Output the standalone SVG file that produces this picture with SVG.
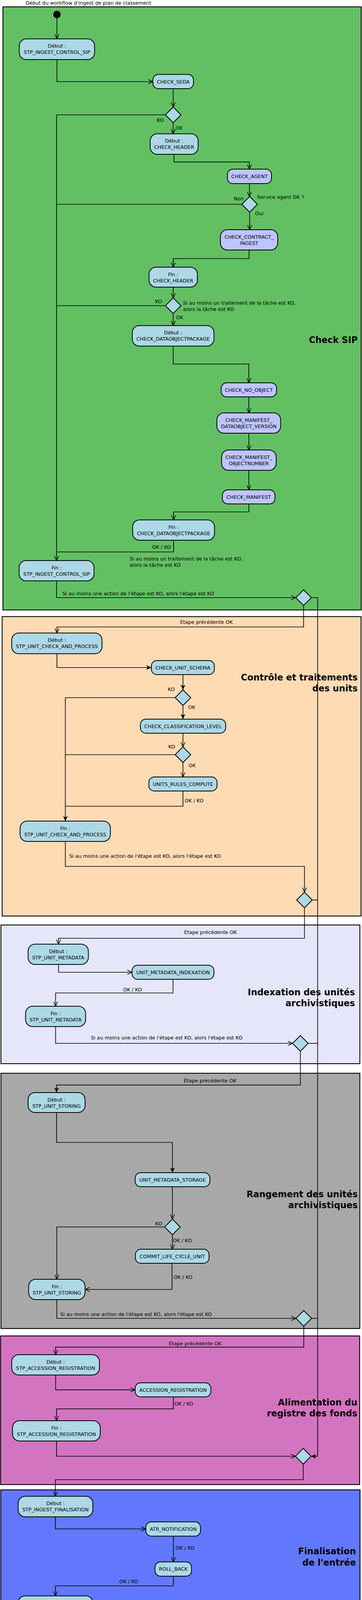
<svg xmlns="http://www.w3.org/2000/svg" width="928" height="4238" viewBox="0 0 928 4238">
<style>
.fr{stroke:#000;stroke-width:2.2}
.n{fill:#ADD8E6;stroke:#000;stroke-width:2}
.n2{fill:#BEC4FF;stroke:#000;stroke-width:2}
.d{fill:#ADD8E6;stroke:#000;stroke-width:2}
text{font-family:"DejaVu Sans","Liberation Sans",sans-serif;font-size:12.7px;fill:#000}
.m{text-anchor:middle}
.ti{font-weight:bold;font-size:22.5px;text-anchor:end}
.c{fill:none;stroke:#000;stroke-width:1.7}
.o{marker-end:url(#ao)}
.f{marker-end:url(#af)}
</style>
<defs>
<marker id="ao" viewBox="0 0 13 12" refX="12.5" refY="6" markerWidth="13" markerHeight="12" markerUnits="userSpaceOnUse" orient="auto">
<path d="M0.5,0.5 L12.5,6 L0.5,11.5" fill="none" stroke="#000" stroke-width="1.6"/>
</marker>
<marker id="af" viewBox="0 0 13 12" refX="13" refY="6" markerWidth="13" markerHeight="12" markerUnits="userSpaceOnUse" orient="auto">
<path d="M0,0 L13,6 L0,12 L3.5,6 Z" fill="#000"/>
</marker>
</defs>

<g id="frames">
<rect class="fr" x="7.5" y="17.5" width="918.5" height="1544" fill="#62C063"/>
<rect class="fr" x="5.5" y="1578.5" width="920" height="766.5" fill="#FFDBB4"/>
<rect class="fr" x="2.5" y="2368" width="920" height="355" fill="#E6E6FA"/>
<rect class="fr" x="2.5" y="2747.5" width="920" height="653.5" fill="#A8A8A8"/>
<rect class="fr" x="1.5" y="3420" width="920.5" height="380.5" fill="#D374C0"/>
<rect class="fr" x="2" y="3814" width="921" height="348" fill="#6278FF"/>
</g>

<g id="titles">
<text class="ti" x="917" y="878">Check SIP</text>
<text class="ti" x="917" y="1741.5">Contrôle et traitements</text>
<text class="ti" x="917" y="1769.5">des units</text>
<text class="ti" x="910" y="2548">Indexation des unités</text>
<text class="ti" x="910" y="2576">archivistiques</text>
<text class="ti" x="917" y="3065">Rangement des unités</text>
<text class="ti" x="917" y="3093">archivistiques</text>
<text class="ti" x="916" y="3598">Alimentation du</text>
<text class="ti" x="916" y="3626">registre des fonds</text>
<text class="ti" x="912.5" y="3979">Finalisation</text>
<text class="ti" x="912.5" y="4007.7">de l'entrée</text>
</g>

<g id="n-start"><circle cx="146" cy="37" r="9.5" fill="#000"/><text x="65.7" y="12">Début du workflow d'ingest de plan de classement</text></g>
<g id="n1"><rect class="n" x="49.5" y="99.5" width="193" height="53" rx="18"/><text class="m" x="146" y="122">Début :</text><text class="m" x="146" y="138">STP_INGEST_CONTROL_SIP</text></g>
<g id="n2"><rect class="n" x="392" y="190.5" width="104" height="36.5" rx="14"/><text class="m" x="444" y="213.5">CHECK_SEDA</text></g>
<g id="d1"><polygon class="d" points="444,274 464,294 444,314 424,294"/></g>
<g id="n3"><rect class="n" x="385" y="342.5" width="123" height="52.5" rx="18"/><text class="m" x="446.5" y="365">Début :</text><text class="m" x="446.5" y="381">CHECK_HEADER</text></g>
<g id="n4"><rect class="n2" x="583" y="433" width="113" height="37" rx="14"/><text class="m" x="639.5" y="456">CHECK_AGENT</text></g>
<g id="d2"><polygon class="d" points="640,503 660,523 640,543 620,523"/></g>
<g id="n5"><rect class="n2" x="565" y="588" width="147" height="52" rx="18"/><text class="m" x="638.5" y="610.5">CHECK_CONTRACT_</text><text class="m" x="638.5" y="626.5">INGEST</text></g>
<g id="n6"><rect class="n" x="382" y="684" width="124" height="51" rx="18"/><text class="m" x="444" y="706.5">Fin :</text><text class="m" x="444" y="722.5">CHECK_HEADER</text></g>
<g id="d3"><polygon class="d" points="444,762.5 464,782.5 444,802.5 424,782.5"/></g>
<g id="n7"><rect class="n" x="339" y="833.5" width="209.5" height="52.5" rx="18"/><text class="m" x="443.75" y="856">Début :</text><text class="m" x="443.75" y="872">CHECK_DATAOBJECTPACKAGE</text></g>
<g id="n8"><rect class="n2" x="567" y="980" width="142" height="36" rx="14"/><text class="m" x="638" y="1002.6">CHECK_NO_OBJECT</text></g>
<g id="n9"><rect class="n2" x="556" y="1057" width="163.5" height="52" rx="18"/><text class="m" x="637.75" y="1079.5">CHECK_MANIFEST_</text><text class="m" x="637.75" y="1095.5">DATAOBJECT_VERSION</text></g>
<g id="n10"><rect class="n2" x="568" y="1152" width="140" height="52" rx="18"/><text class="m" x="638" y="1174.5">CHECK_MANIFEST_</text><text class="m" x="638" y="1190.5">OBJECTNUMBER</text></g>
<g id="n11"><rect class="n2" x="570" y="1254" width="135" height="36" rx="14"/><text class="m" x="637.5" y="1276.6">CHECK_MANIFEST</text></g>
<g id="n12"><rect class="n" x="340" y="1331" width="210" height="52" rx="18"/><text class="m" x="445" y="1353.5">Fin :</text><text class="m" x="445" y="1369.5">CHECK_DATAOBJECTPACKAGE</text></g>
<g id="n13"><rect class="n" x="49" y="1435" width="192" height="52" rx="18"/><text class="m" x="145" y="1457.5">Fin :</text><text class="m" x="145" y="1473.5">STP_INGEST_CONTROL_SIP</text></g>
<g id="d4"><polygon class="d" points="778.3,1510 798.3,1530 778.3,1550 758.3,1530"/></g>

<g id="n14"><rect class="n" x="30" y="1620.5" width="231.5" height="53" rx="18"/><text class="m" x="145.75" y="1643">Début :</text><text class="m" x="145.75" y="1659">STP_UNIT_CHECK_AND_PROCESS</text></g>
<g id="n15"><rect class="n" x="388" y="1691" width="161.5" height="36" rx="14"/><text class="m" x="468.75" y="1713.6">CHECK_UNIT_SCHEMA</text></g>
<g id="d5"><polygon class="d" points="469,1766 489,1786 469,1806 449,1786"/></g>
<g id="n16"><rect class="n" x="360" y="1841" width="218.5" height="36" rx="14"/><text class="m" x="469.25" y="1863.6">CHECK_CLASSIFICATION_LEVEL</text></g>
<g id="d6"><polygon class="d" points="469,1912 489,1932 469,1952 449,1932"/></g>
<g id="n17"><rect class="n" x="381.5" y="1989" width="175" height="36" rx="14"/><text class="m" x="469" y="2011.6">UNITS_RULES_COMPUTE</text></g>
<g id="n18"><rect class="n" x="51.5" y="2102" width="231.5" height="52" rx="18"/><text class="m" x="167.25" y="2124.5">Fin :</text><text class="m" x="167.25" y="2140.5">STP_UNIT_CHECK_AND_PROCESS</text></g>
<g id="d7"><polygon class="d" points="780.5,2284 800.5,2304 780.5,2324 760.5,2304"/></g>

<g id="n19"><rect class="n" x="72" y="2417" width="154.5" height="52" rx="18"/><text class="m" x="149.25" y="2439.5">Début :</text><text class="m" x="149.25" y="2455.5">STP_UNIT_METADATA</text></g>
<g id="n20"><rect class="n" x="338.5" y="2471" width="210" height="36" rx="14"/><text class="m" x="443.5" y="2493.6">UNIT_METADATA_INDEXATION</text></g>
<g id="n21"><rect class="n" x="65.5" y="2576" width="154" height="52" rx="18"/><text class="m" x="142.5" y="2598.5">Fin :</text><text class="m" x="142.5" y="2614.5">STP_UNIT_METADATA</text></g>
<g id="d8"><polygon class="d" points="770,2651 790,2671 770,2691 750,2671"/></g>

<g id="n22"><rect class="n" x="72" y="2797" width="146" height="51" rx="18"/><text class="m" x="145" y="2819.5">Début :</text><text class="m" x="145" y="2835.5">STP_UNIT_STORING</text></g>
<g id="n23"><rect class="n" x="346.5" y="3002" width="191.5" height="36" rx="14"/><text class="m" x="442.25" y="3024.6">UNIT_METADATA_STORAGE</text></g>
<g id="d9"><polygon class="d" points="442,3121 462,3141 442,3161 422,3141"/></g>
<g id="n24"><rect class="n" x="347" y="3198" width="189" height="36" rx="14"/><text class="m" x="441.5" y="3220.6">COMMIT_LIFE_CYCLE_UNIT</text></g>
<g id="n25"><rect class="n" x="73.5" y="3275" width="144.5" height="52" rx="18"/><text class="m" x="145.75" y="3297.5">Fin :</text><text class="m" x="145.75" y="3313.5">STP_UNIT_STORING</text></g>
<g id="d10"><polygon class="d" points="778.7,3355 798.7,3375 778.7,3395 758.7,3375"/></g>

<g id="n26"><rect class="n" x="30" y="3468" width="225" height="52" rx="18"/><text class="m" x="142.5" y="3490.5">Début :</text><text class="m" x="142.5" y="3506.5">STP_ACCESSION_REGISTRATION</text></g>
<g id="n27"><rect class="n" x="346.5" y="3540" width="194" height="36" rx="14"/><text class="m" x="443.5" y="3562.6">ACCESSION_REGISTRATION</text></g>
<g id="n28"><rect class="n" x="32" y="3637" width="225" height="52" rx="18"/><text class="m" x="144.5" y="3659.5">Fin :</text><text class="m" x="144.5" y="3675.5">STP_ACCESSION_REGISTRATION</text></g>
<g id="d11"><polygon class="d" points="777.4,3708 797.4,3728 777.4,3748 757.4,3728"/></g>

<g id="n29"><rect class="n" x="46.5" y="3830.5" width="191.5" height="52.5" rx="18"/><text class="m" x="142.25" y="3853">Début :</text><text class="m" x="142.25" y="3869">STP_INGEST_FINALISATION</text></g>
<g id="n30"><rect class="n" x="374" y="3896" width="140" height="36.5" rx="14"/><text class="m" x="444" y="3918.7">ATR_NOTIFICATION</text></g>
<g id="n31"><rect class="n" x="397.5" y="3998.5" width="93.5" height="36.5" rx="14"/><text class="m" x="444.25" y="4021.2">ROLL_BACK</text></g>
<g id="n32"><rect class="n" x="46.5" y="4085.5" width="191.5" height="52.5" rx="18"/><text class="m" x="142.25" y="4108">Fin :</text><text class="m" x="142.25" y="4124">STP_INGEST_FINALISATION</text></g>
<g id="n-end"><circle cx="142.3" cy="4196.8" r="15" fill="#fff" stroke="#000" stroke-width="2"/><circle cx="142.3" cy="4196.8" r="9.5" fill="#000"/><text x="61.5" y="4234.5">Fin du workflow d'ingest de plan de classement</text></g>

<g id="connectors">
<path class="c o" d="M146,46.5 V99.5"/>
<path class="c o" d="M146,152.5 V209 H392"/>
<path class="c o" d="M444,227 V274"/>
<path class="c" d="M424,294 H145"/>
<path class="c o" d="M444,314 V342.5"/>
<path class="c o" d="M446,395 V414.6 H639.5 V433"/>
<path class="c o" d="M639.5,470 V503"/>
<path class="c" d="M620,523 H145"/>
<path class="c o" d="M640,543 V588"/>
<path class="c o" d="M638.5,640 V662 H444 V684"/>
<path class="c o" d="M444,735 V762.5"/>
<path class="c" d="M424,782.5 H145"/>
<path class="c o" d="M444,802.5 V833.5"/>
<path class="c o" d="M444,886 V932 H638 V980"/>
<path class="c o" d="M638,1016 V1057"/>
<path class="c o" d="M638,1109 V1152"/>
<path class="c o" d="M638,1204 V1254"/>
<path class="c o" d="M638,1290 V1310.5 H445 V1331"/>
<path class="c" d="M445,1383 V1413 H145"/>
<path class="c o" d="M145,294 V1435"/>
<path class="c o" d="M145,1487 V1530 H758.3"/>
<path class="c f" d="M798.3,1530 H814.3 V3728 H797.4"/>
<path class="c o" d="M778.3,1550 V1605 H146 V1620.5"/>
<path class="c f" d="M146,1673.5 V1709 H388"/>
<path class="c f" d="M469,1727 V1766"/>
<path class="c" d="M449,1786 H167.5"/>
<path class="c f" d="M469,1806 V1841"/>
<path class="c o" d="M469,1877 V1912"/>
<path class="c" d="M449,1932 H167.5"/>
<path class="c o" d="M469,1952 V1989"/>
<path class="c" d="M469,2025 V2064 H167.5"/>
<path class="c f" d="M167.5,1786 V2102"/>
<path class="c o" d="M167.5,2154 V2218 H780.5 V2284"/>
<path class="c" d="M800.5,2304 H814.3"/>
<path class="c o" d="M780.5,2324 V2402 H150 V2417"/>
<path class="c o" d="M150,2469 V2489 H338.5"/>
<path class="c o" d="M443.5,2507 V2542 H142.5 V2576"/>
<path class="c o" d="M142.5,2628 V2671 H750"/>
<path class="c" d="M790,2671 H814.3"/>
<path class="c f" d="M770,2691 V2777.6 H145 V2797"/>
<path class="c f" d="M145,2848 V2924.5 H442 V3002"/>
<path class="c o" d="M442,3038 V3121"/>
<path class="c o" d="M422,3141 H145.6 V3275"/>
<path class="c o" d="M442,3161 V3198"/>
<path class="c o" d="M441,3234 V3301 H218"/>
<path class="c o" d="M145.6,3327 V3375 H758.7"/>
<path class="c" d="M798.7,3375 H814.3"/>
<path class="c o" d="M778.7,3395 V3448.6 H142.6 V3468"/>
<path class="c o" d="M142.6,3520 V3557.8 H346.5"/>
<path class="c o" d="M444.4,3576 V3606.7 H145 V3637"/>
<path class="c o" d="M145,3689 V3728 H757.4"/>
<path class="c o" d="M777.4,3748 V3788 H142 V3830.5"/>
<path class="c o" d="M142,3883 V3914 H374"/>
<path class="c o" d="M444.5,3932.5 V3998.5"/>
<path class="c o" d="M444.5,4035 V4060 H142 V4085.5"/>
<path class="c o" d="M142.3,4138 V4181.8"/>
</g>

<g id="labels">
<text x="402" y="312">KO</text>
<text x="450" y="331.5">OK</text>
<text x="599.4" y="513">Non</text>
<text x="659" y="509">Service agent OK ?</text>
<text x="654" y="551">Oui</text>
<text x="397.6" y="776">KO</text>
<text x="469" y="780">Si au moins un traitement de la tâche est KO,</text>
<text x="469" y="796">alors la tâche est KO</text>
<text x="451.5" y="816.5">OK</text>
<text x="390" y="1405">OK / KO</text>
<text x="332.5" y="1435">Si au moins un traitement de la tâche est KO,</text>
<text x="332.5" y="1451">alors la tâche est KO</text>
<text x="160" y="1524">Si au moins une action de l'étape est KO, alors l'étape est KO</text>
<text x="461.5" y="1597">Étape précédente OK</text>
<text x="430.3" y="1769">KO</text>
<text x="482.3" y="1815.3">OK</text>
<text x="431.4" y="1916">KO</text>
<text x="483.4" y="1964">OK</text>
<text x="473.4" y="2053.5">OK / KO</text>
<text x="177.5" y="2196">Si au moins une action de l'étape est KO, alors l'étape est KO</text>
<text x="472" y="2391">Étape précédente OK</text>
<text x="315.4" y="2538">OK / KO</text>
<text x="233" y="2661">Si au moins une action de l'étape est KO, alors l'étape est KO</text>
<text x="471" y="2771">Étape précédente OK</text>
<text x="398" y="3136.5">KO</text>
<text x="443.2" y="3180">OK / KO</text>
<text x="445" y="3274">OK / KO</text>
<text x="154.4" y="3369">Si au moins une action de l'étape est KO, alors l'étape est KO</text>
<text x="432.5" y="3444">Étape précédente OK</text>
<text x="447.3" y="3598">OK / KO</text>
<text x="450" y="3967">OK / KO</text>
<text x="306" y="4053">OK / KO</text>
</g>
</svg>
